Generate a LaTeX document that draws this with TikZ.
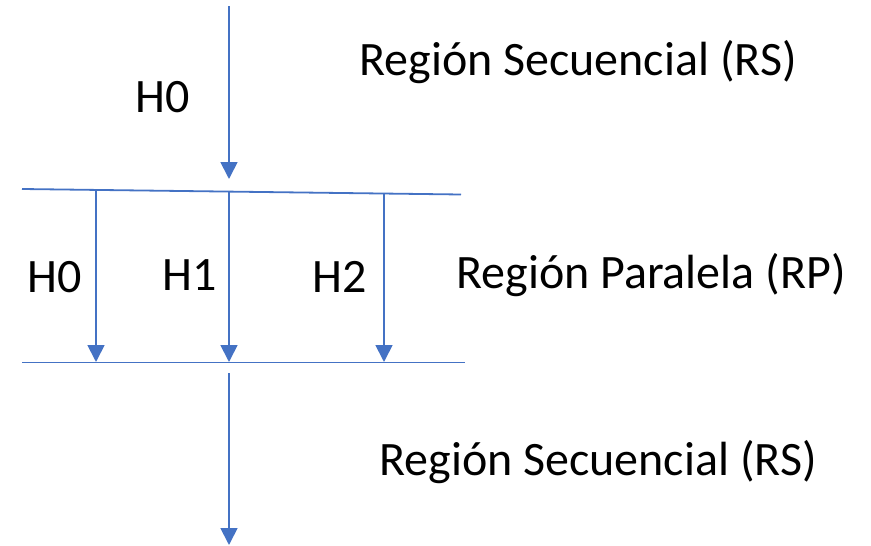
\documentclass[tikz,border=0pt]{standalone}
\usepackage{fontspec}
\setmainfont{Carlito}
\usetikzlibrary{arrows.meta}
\definecolor{flow}{HTML}{4472C4}
\begin{document}
\begin{tikzpicture}[x=1pt,y=-1pt,
  flowline/.style={draw=flow,line width=1.8pt},
  flowarrow/.style={flowline,-{Triangle[width=17pt,length=17pt]}},
  lbl/.style={inner sep=0pt,font=\fontsize{48}{56}\selectfont,text=black}]
\useasboundingbox (0,0) rectangle (871,546);
% region boundaries
\coordinate (tl) at (22,189);
\coordinate (tr) at (461,194.5);
\coordinate (bl) at (22,362.5);
\coordinate (br) at (465,362.5);
\draw[flowline] (tl) -- (tr);
\draw[flowline] (bl) -- (br);
% thread starts on the fork line and ends on the join line
\coordinate (s0) at (96,190);
\coordinate (s1) at (229,191.5);
\coordinate (s2) at (384,193.5);
\coordinate (e0) at (96,362);
\coordinate (e1) at (229,362);
\coordinate (e2) at (384,362);
\coordinate (top) at (229,6);
\coordinate (topend) at (229,179);
\coordinate (bot) at (229,373);
\coordinate (botend) at (229,545);
\draw[flowarrow] (top) -- (topend);
\draw[flowarrow] (s0) -- (e0);
\draw[flowarrow] (s1) -- (e1);
\draw[flowarrow] (s2) -- (e2);
\draw[flowarrow] (bot) -- (botend);
% labels
\node[lbl] (h0a) at (163,97) {H0};
\node[lbl] (h0b) at (55,277) {H0};
\node[lbl] (h1) at (190,275) {H1};
\node[lbl] (h2) at (340,277) {H2};
\node[lbl] (rs1) at (578,62) {Región Secuencial (RS)};
\node[lbl] (rp) at (651,275) {Región Paralela (RP)};
\node[lbl] (rs2) at (598,462) {Región Secuencial (RS)};
\end{tikzpicture}
\end{document}
